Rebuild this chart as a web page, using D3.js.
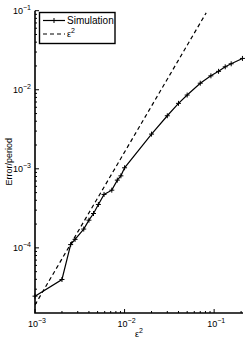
<!DOCTYPE html>
<html>
<head>
<meta charset="utf-8">
<script src="https://cdn.jsdelivr.net/npm/d3@7"></script>
<style>
  body { margin: 0; background: #fff; }
  svg { display: block; font-family: "Liberation Sans", Arial, sans-serif; }
</style>
</head>
<body>
<svg id="svg1" width="249" height="344"></svg>
<script>
// Simulation data
var simEps2 = [0.001, 0.002, 0.0025, 0.0028, 0.0035, 0.004, 0.0045, 0.0051, 0.0059, 0.0072,
               0.0083, 0.0091, 0.01, 0.02, 0.03, 0.04, 0.05, 0.07, 0.092, 0.112, 0.133, 0.155, 0.207];
var simError = [2.45e-5, 3.98e-5, 1.10e-4, 1.28e-4, 1.73e-4, 2.24e-4, 2.72e-4, 3.54e-4, 4.74e-4, 5.37e-4,
                7.19e-4, 8.15e-4, 1.03e-3, 2.75e-3, 4.69e-3, 6.73e-3, 8.57e-3, 1.21e-2, 1.50e-2, 1.71e-2, 1.95e-2, 2.13e-2, 2.49e-2];

// Reference line eps^2 (end points)
var refEps2 = [0.001, 0.0815];
var refError = [1.9e-5, 0.094];

// Axis decades
var xTickExp = [-3, -2, -1];
var yTickExp = [-4, -3, -2, -1];

// plot box in pixels
var plotLeft = 35, plotRight = 243, plotTop = 10.7, plotBottom = 313;

// Method to get the x-scale
function getScaleX() {
    return d3.scaleLog().domain([0.001, 0.21]).range([plotLeft, plotRight]);
}

// Method to get the y-scale
function getScaleY() {
    return d3.scaleLog().domain([1.5e-5, 0.1]).range([plotBottom, plotTop]);
}

// minor + major log ticks inside a domain
function logTicks(domain) {
    var out = [];
    for (var e = -6; e <= 1; e++) {
        for (var m = 1; m <= 9; m++) {
            var v = m * Math.pow(10, e);
            if (v >= domain[0] * 0.999 && v <= domain[1] * 1.001) out.push({v: v, major: m === 1});
        }
    }
    return out;
}

function powLabel(sel, exp) {
    sel.append("tspan").text("10");
    sel.append("tspan").attr("font-size", "7px").attr("dy", -4).text("\u2212" + Math.abs(exp));
}

function drawAxes(svg, scaleX, scaleY) {
    // ticks on both axes (pointing inward)
    var g = svg.append("g").attr("stroke", "#000").attr("stroke-width", 1);
    logTicks(scaleX.domain()).forEach(function(t) {
        var len = t.major ? 4 : 2;
        g.append("line").attr("x1", scaleX(t.v)).attr("x2", scaleX(t.v))
            .attr("y1", plotBottom).attr("y2", plotBottom - len);
    });
    logTicks(scaleY.domain()).forEach(function(t) {
        var len = t.major ? 4 : 2;
        g.append("line").attr("x1", plotLeft).attr("x2", plotLeft + len)
            .attr("y1", scaleY(t.v)).attr("y2", scaleY(t.v));
    });

    // axis lines
    svg.append("path")
        .attr("d", "M" + plotLeft + "," + plotTop + "V" + plotBottom + "H" + plotRight)
        .attr("fill", "none").attr("stroke", "#000").attr("stroke-width", 1.6);

    // tick labels
    xTickExp.forEach(function(e) {
        var t = svg.append("text").attr("x", scaleX(Math.pow(10, e)) + 2).attr("y", 327)
            .attr("text-anchor", "middle").attr("font-size", "9px");
        powLabel(t, e);
    });
    yTickExp.forEach(function(e) {
        var t = svg.append("text").attr("x", 31).attr("y", scaleY(Math.pow(10, e)) + 3)
            .attr("text-anchor", "end").attr("font-size", "9px");
        powLabel(t, e);
    });

    // axis titles
    var xl = svg.append("text").attr("x", 139).attr("y", 337).attr("text-anchor", "middle").attr("font-size", "9px");
    xl.append("tspan").text("\u03b5");
    xl.append("tspan").attr("font-size", "7px").attr("dy", -4).text("2");

    svg.append("text")
        .attr("transform", "translate(12," + ((plotTop + plotBottom) / 2) + ") rotate(-90)")
        .attr("text-anchor", "middle").attr("font-size", "9px")
        .text("Error/period");
}

function plusMarks(sel, pts) {
    sel.selectAll("path.mk").data(pts).enter().append("path")
        .attr("class", "mk")
        .attr("d", function(d) { return "M" + (d[0] - 2.5) + "," + d[1] + "h5M" + d[0] + "," + (d[1] - 2.5) + "v5"; })
        .attr("stroke", "#000").attr("stroke-width", 1);
}

function main() {
    var svg = d3.select("#svg1");
    var scaleX = getScaleX();
    var scaleY = getScaleY();

    svg.append("clipPath").attr("id", "clip").append("rect")
        .attr("x", plotLeft).attr("y", plotTop).attr("width", plotRight - plotLeft + 4).attr("height", plotBottom - plotTop);

    drawAxes(svg, scaleX, scaleY);

    var line = d3.line().x(d => scaleX(d[0])).y(d => scaleY(d[1]));
    var plot = svg.append("g").attr("clip-path", "url(#clip)");

    // reference eps^2 line
    plot.append("path")
        .datum(d3.zip(refEps2, refError))
        .attr("fill", "none").attr("stroke", "#000").attr("stroke-width", 1.2)
        .attr("stroke-dasharray", "4,3")
        .attr("d", line);

    // simulation line with + markers
    var simData = d3.zip(simEps2, simError);
    plot.append("path")
        .datum(simData)
        .attr("fill", "none").attr("stroke", "#000").attr("stroke-width", 1.2)
        .attr("d", line);
    plusMarks(svg, simData.map(d => [scaleX(d[0]), scaleY(d[1])]));

    // legend
    var lg = svg.append("g");
    lg.append("rect").attr("x", 39.5).attr("y", 12.5).attr("width", 75.5).attr("height", 31)
        .attr("fill", "#fff").attr("stroke", "#000").attr("stroke-width", 1.4);
    lg.append("line").attr("x1", 43).attr("x2", 65).attr("y1", 20.5).attr("y2", 20.5)
        .attr("stroke", "#000").attr("stroke-width", 1.2);
    plusMarks(lg, [[54, 20.5]]);
    lg.append("text").attr("x", 67).attr("y", 24).attr("font-size", "10px").text("Simulation");
    lg.append("line").attr("x1", 43).attr("x2", 65).attr("y1", 34).attr("y2", 34)
        .attr("stroke", "#000").attr("stroke-width", 1.2).attr("stroke-dasharray", "4,3");
    var e2 = lg.append("text").attr("x", 67).attr("y", 37).attr("font-size", "9px");
    e2.append("tspan").text("\u03b5");
    e2.append("tspan").attr("font-size", "7px").attr("dy", -4).text("2");
}

main();
</script>
</body>
</html>
